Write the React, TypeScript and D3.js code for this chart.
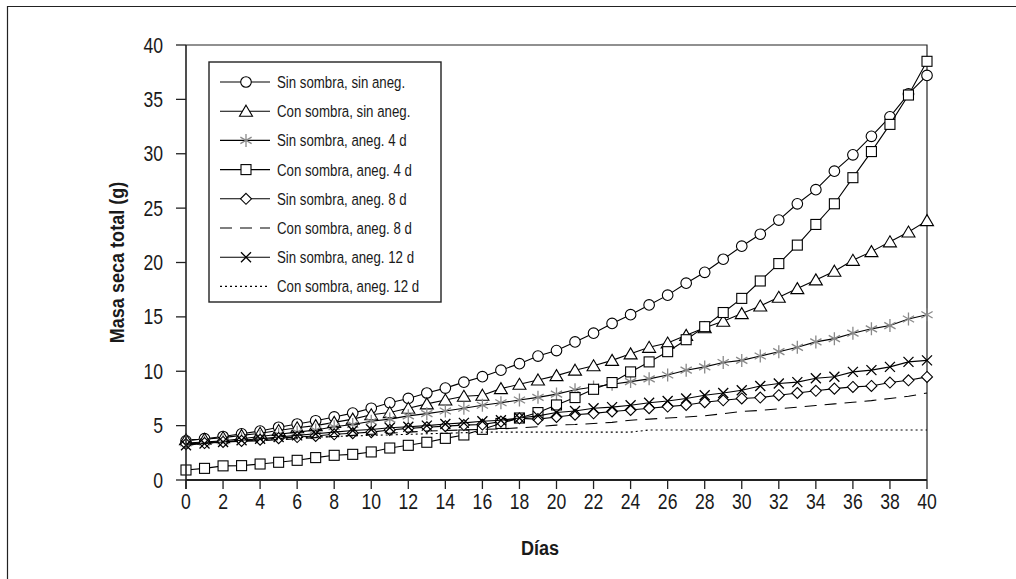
import React from "react";
import * as d3 from "d3";

const days: number[] = Array.from({ length: 41 }, (_, i) => i);

const sinSombraSinAneg = [3.6, 3.8, 4.0, 4.25, 4.5, 4.85, 5.15, 5.45, 5.8, 6.15, 6.6, 7.1, 7.5, 8.0, 8.45, 9.0, 9.5, 10.1, 10.7, 11.4, 11.9, 12.7, 13.5, 14.4, 15.2, 16.1, 17.0, 18.1, 19.1, 20.3, 21.5, 22.6, 23.9, 25.4, 26.7, 28.4, 29.9, 31.6, 33.4, 35.5, 37.2];
const conSombraSinAneg = [3.7, 3.75, 3.9, 4.1, 4.3, 4.55, 4.8, 5.0, 5.3, 5.6, 6.0, 6.2, 6.6, 7.0, 7.35, 7.7, 7.8, 8.4, 8.8, 9.2, 9.6, 10.1, 10.5, 11.0, 11.6, 12.2, 12.6, 13.3, 14.0, 14.6, 15.3, 16.0, 16.8, 17.6, 18.4, 19.2, 20.2, 21.0, 21.9, 22.8, 23.85];
const sinSombraAneg4 = [3.4, 3.5, 3.6, 3.8, 4.0, 4.2, 4.4, 4.6, 4.9, 5.1, 5.4, 5.6, 5.9, 6.1, 6.35, 6.6, 6.87, 7.1, 7.36, 7.6, 7.9, 8.3, 8.55, 8.8, 9.05, 9.3, 9.65, 10.1, 10.4, 10.8, 11.0, 11.4, 11.8, 12.2, 12.7, 13.0, 13.5, 13.9, 14.2, 14.8, 15.2];
const conSombraAneg4 = [0.92, 1.07, 1.3, 1.32, 1.47, 1.63, 1.81, 2.06, 2.27, 2.36, 2.58, 2.94, 3.19, 3.47, 3.83, 4.14, 4.66, 5.2, 5.7, 6.2, 6.9, 7.58, 8.34, 8.96, 9.94, 10.86, 11.8, 12.9, 14.1, 15.4, 16.7, 18.3, 19.9, 21.6, 23.5, 25.4, 27.8, 30.2, 32.7, 35.4, 38.5];
const sinSombraAneg8 = [3.3, 3.4, 3.5, 3.6, 3.7, 3.85, 3.95, 4.05, 4.2, 4.3, 4.4, 4.6, 4.75, 4.85, 4.95, 5.05, 5.1, 5.37, 5.67, 5.6, 5.8, 6.0, 6.13, 6.3, 6.44, 6.6, 6.75, 6.9, 7.15, 7.33, 7.5, 7.58, 7.8, 8.0, 8.2, 8.4, 8.56, 8.65, 8.96, 9.17, 9.48];
const conSombraAneg8 = [3.3, 3.4, 3.5, 3.55, 3.6, 3.7, 3.8, 3.9, 4.0, 4.1, 4.2, 4.3, 4.4, 4.5, 4.55, 4.6, 4.66, 4.7, 4.8, 4.9, 5.05, 5.1, 5.2, 5.3, 5.5, 5.6, 5.7, 5.8, 5.9, 6.1, 6.3, 6.4, 6.55, 6.7, 6.85, 7.0, 7.15, 7.3, 7.5, 7.7, 8.0];
const sinSombraAneg12 = [3.2, 3.35, 3.5, 3.65, 3.8, 3.95, 4.1, 4.25, 4.4, 4.55, 4.65, 4.8, 4.9, 5.0, 5.15, 5.25, 5.4, 5.5, 5.7, 5.9, 6.2, 6.35, 6.6, 6.7, 6.87, 7.1, 7.27, 7.5, 7.8, 8.0, 8.25, 8.65, 8.87, 9.0, 9.36, 9.5, 9.94, 10.1, 10.4, 10.86, 11.0];
const conSombraAneg12 = [3.3, 3.4, 3.5, 3.6, 3.7, 3.8, 3.9, 3.95, 4.0, 4.05, 4.1, 4.15, 4.2, 4.25, 4.3, 4.35, 4.4, 4.4, 4.4, 4.4, 4.4, 4.4, 4.4, 4.4, 4.4, 4.6, 4.6, 4.6, 4.6, 4.6, 4.6, 4.6, 4.6, 4.6, 4.6, 4.6, 4.6, 4.6, 4.6, 4.6, 4.6];

const seriesNames = [
  "Sin sombra, sin aneg.",
  "Con sombra, sin aneg.",
  "Sin sombra, aneg. 4 d",
  "Con sombra, aneg. 4 d",
  "Sin sombra, aneg. 8 d",
  "Con sombra, aneg. 8 d",
  "Sin sombra, aneg. 12 d",
  "Con sombra, aneg. 12 d",
];
const seriesValues = [
  sinSombraSinAneg,
  conSombraSinAneg,
  sinSombraAneg4,
  conSombraAneg4,
  sinSombraAneg8,
  conSombraAneg8,
  sinSombraAneg12,
  conSombraAneg12,
];
const seriesMarkers = ["circle", "triangle", "star", "square", "diamond", "none", "x", "none"];
const seriesDash = ["", "", "", "", "", "12,8", "", "2,3"];

const xTicks = d3.range(0, 41, 2);
const yTicks = d3.range(0, 41, 5);

const FONT = "'Liberation Sans', Arial, sans-serif";

const left = 186, right = 927, top = 45, bottom = 480;

function CText({
  x, y, sx = 0.75, size, anchor = "start", bold = false, rotate = 0, children,
}: {
  x: number; y: number; sx?: number; size: number; anchor?: string; bold?: boolean; rotate?: number; children: React.ReactNode;
}) {
  return (
    <text
      transform={`translate(${x},${y})${rotate ? ` rotate(${rotate})` : ""} scale(${sx},1)`}
      textAnchor={anchor}
      fontSize={size}
      fontWeight={bold ? "bold" : "normal"}
      fill="#1a1a1a"
      fontFamily={FONT}
    >
      {children}
    </text>
  );
}

function Marker({ type, x, y }: { type: string; x: number; y: number }) {
  const s = 5;
  switch (type) {
    case "circle":
      return <circle cx={x} cy={y} r={5.3} fill="white" stroke="black" strokeWidth={1.1} />;
    case "square":
      return <rect x={x - s} y={y - s} width={2 * s} height={2 * s} fill="white" stroke="black" strokeWidth={1.1} />;
    case "triangle":
      return (
        <path d={`M${x},${y - 6}L${x + 6.5},${y + 5}L${x - 6.5},${y + 5}Z`} fill="white" stroke="black" strokeWidth={1.1} />
      );
    case "diamond":
      return (
        <path d={`M${x},${y - 5.5}L${x + 5.5},${y}L${x},${y + 5.5}L${x - 5.5},${y}Z`} fill="white" stroke="black" strokeWidth={1.1} />
      );
    case "star": {
      const r = 6.5;
      const a = r * Math.cos(Math.PI / 6);
      const b = r * Math.sin(Math.PI / 6);
      return (
        <path
          d={`M${x},${y - r}L${x},${y + r}M${x - a},${y - b}L${x + a},${y + b}M${x - a},${y + b}L${x + a},${y - b}`}
          stroke="#8a8a8a"
          strokeWidth={1.3}
          fill="none"
        />
      );
    }
    case "x": {
      const r = 5;
      return (
        <path d={`M${x - r},${y - r}L${x + r},${y + r}M${x - r},${y + r}L${x + r},${y - r}`} stroke="black" strokeWidth={1.3} fill="none" />
      );
    }
    default:
      return null;
  }
}

export default function App() {
  const width = 1016, height = 579;
  const x = d3.scaleLinear().domain([0, 40]).range([left, right]);
  const y = d3.scaleLinear().domain([0, 40]).range([bottom, top]);
  const line = d3
    .line<number>()
    .x((_, i) => x(days[i]))
    .y((v) => y(v));

  const legX = 209, legY = 62, legW = 232, legH = 240;
  const legRow0 = 82, legStep = 29.2;

  return (
    <svg width={width} height={height} style={{ position: "absolute", left: 0, top: 0, background: "white" }}>
      <rect x={0} y={0} width={width} height={height} fill="white" />
      {/* outer frame */}
      <path d={`M7.5,${height + 2}L7.5,6.5L${width + 2},6.5`} fill="none" stroke="#222" strokeWidth={1.2} />

      {/* plot frame */}
      <path d={`M${left},${top}L${right},${top}L${right},${bottom}`} fill="none" stroke="#222" strokeWidth={1.2} />

      {/* series */}
      {seriesValues.map((vals, si) => (
        <g key={si}>
          <path d={line(vals) || ""} fill="none" stroke="black" strokeWidth={1.1} strokeDasharray={seriesDash[si] || undefined} />
          {seriesMarkers[si] !== "none" &&
            vals.map((v, i) => <Marker key={i} type={seriesMarkers[si]} x={x(days[i])} y={y(v)} />)}
        </g>
      ))}

      {/* axes */}
      <line x1={left} x2={left} y1={top} y2={bottom + 9} stroke="#222" strokeWidth={1.6} />
      <line x1={left} x2={right} y1={bottom} y2={bottom} stroke="#222" strokeWidth={2.2} />
      {yTicks.map((t) => (
        <g key={t}>
          <line x1={left - 10} x2={left} y1={y(t)} y2={y(t)} stroke="#222" strokeWidth={1.3} />
          <CText x={left - 23} y={y(t) + 7.5} size={22} sx={0.8} anchor="end">
            {t}
          </CText>
        </g>
      ))}
      {xTicks.map((t) => (
        <g key={t}>
          <line x1={x(t)} x2={x(t)} y1={bottom} y2={bottom + 9} stroke="#222" strokeWidth={1.3} />
          <CText x={x(t)} y={509} size={22} sx={0.8} anchor="middle">
            {t}
          </CText>
        </g>
      ))}

      {/* axis titles */}
      <CText x={540} y={555} size={21} sx={0.86} anchor="middle" bold>
        Días
      </CText>
      <CText x={124} y={(top + bottom) / 2} size={21} sx={0.86} anchor="middle" bold rotate={-90}>
        Masa seca total (g)
      </CText>

      {/* legend */}
      <rect x={legX} y={legY} width={legW} height={legH} fill="white" stroke="#222" strokeWidth={1.4} />
      {seriesNames.map((name, i) => {
        const ly = legRow0 + i * legStep;
        return (
          <g key={name}>
            <line x1={220} x2={270} y1={ly} y2={ly} stroke="black" strokeWidth={1.1} strokeDasharray={seriesDash[i] || undefined} />
            <Marker type={seriesMarkers[i]} x={246} y={ly} />
            <CText x={277} y={ly + 6} size={17} sx={0.78}>
              {name}
            </CText>
          </g>
        );
      })}
    </svg>
  );
}
